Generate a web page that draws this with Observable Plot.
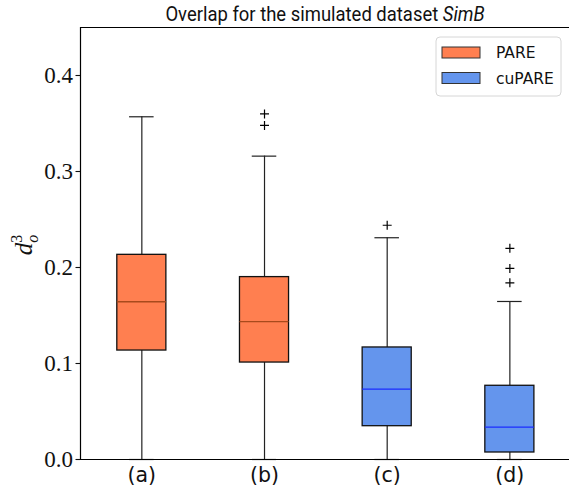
<!DOCTYPE html>
<html>
<head>
<meta charset="utf-8">
<script src="https://cdn.jsdelivr.net/npm/d3@7"></script>
<script src="https://cdn.jsdelivr.net/npm/@observablehq/plot@0.6"></script>
<style>
  body { margin: 0; background: #fff; }
  svg { overflow: visible; }
</style>
</head>
<body>
<div id="chart"></div>
<script>
// Box-plot summaries of the overlap metric, one box per configuration
const categories  = ["(a)", "(b)", "(c)", "(d)"];
const methods     = ["PARE", "PARE", "cuPARE", "cuPARE"];
const whiskerLow  = [0.0, 0.0, 0.0, 0.0];
const q1          = [0.1135, 0.101, 0.0347, 0.0073];
const median      = [0.1643, 0.1437, 0.0733, 0.0337];
const q3          = [0.2132, 0.190, 0.1167, 0.0768];
const whiskerHigh = [0.357, 0.316, 0.231, 0.1646];
const outliers    = [[], [0.348, 0.360], [0.244], [0.184, 0.199, 0.220]];
const yTicks      = [0.0, 0.1, 0.2, 0.3, 0.4];
const legendLabels = ["PARE", "cuPARE"];

const fillColors   = {PARE: "#ff7f50", cuPARE: "#6495ed"};
const medianColors = {PARE: "#a84a1c", cuPARE: "#1a2cff"};

const boxes = categories.map((label, i) => ({
  pos: i + 1, label, method: methods[i],
  lo: whiskerLow[i], q1: q1[i], med: median[i], q3: q3[i], hi: whiskerHigh[i]
}));
const fliers = outliers.flatMap((vals, i) => vals.map(v => ({pos: i + 1, value: v})));

const boxHalf = 0.2, capHalf = 0.1;

const chart = Plot.plot({
  width: 569,
  height: 494,
  marginTop: 27,
  marginBottom: 35,
  marginLeft: 80,
  marginRight: 0,
  x: {domain: [0.5, 4.5], range: [80, 570.7]},
  y: {domain: [0, 0.45]},
  color: {type: "identity"},
  marks: [
    // whiskers
    Plot.ruleX(boxes, {x: "pos", y1: "lo", y2: "q1", stroke: "#222", strokeWidth: 1.2}),
    Plot.ruleX(boxes, {x: "pos", y1: "q3", y2: "hi", stroke: "#222", strokeWidth: 1.2}),
    // caps
    Plot.ruleY(boxes, {y: "hi", x1: d => d.pos - capHalf, x2: d => d.pos + capHalf, stroke: "#222", strokeWidth: 1.2}),
    Plot.ruleY(boxes, {y: "lo", x1: d => d.pos - capHalf, x2: d => d.pos + capHalf, stroke: "#222", strokeWidth: 1.2}),
    // boxes
    Plot.rect(boxes, {
      x1: d => d.pos - boxHalf, x2: d => d.pos + boxHalf,
      y1: "q1", y2: "q3",
      fill: d => fillColors[d.method], stroke: "#111", strokeWidth: 1.3
    }),
    // medians
    Plot.ruleY(boxes, {
      y: "med", x1: d => d.pos - boxHalf, x2: d => d.pos + boxHalf,
      stroke: d => medianColors[d.method], strokeWidth: 1.3
    }),
    // outliers
    Plot.dot(fliers, {x: "pos", y: "value", symbol: "plus", r: 3, stroke: "#000", strokeWidth: 1.2}),
    // frame
    Plot.ruleX([0.5, 4.5], {stroke: "#000", strokeWidth: 1.2}),
    Plot.ruleY([0, 0.45], {stroke: "#000", strokeWidth: 1.2}),
    // axes
    Plot.axisY(yTicks, {
      tickSize: 4.5, tickPadding: 3, tickFormat: d => d.toFixed(1),
      fontSize: 23, color: "#111", label: null, strokeWidth: 1.1,
      ariaLabel: "y-axis"
    }),
    Plot.axisX([1, 2, 3, 4], {
      tickSize: 0, tickPadding: 8, tickFormat: d => categories[d - 1],
      fontSize: 21, color: "#111", label: null,
      ariaLabel: "x-axis"
    })
  ]
});

const svg = d3.select(chart);

// serif tick numbers on y, sans letters on x
svg.selectAll('g[aria-label="y-axis tick label"], g[aria-label="y-axis tick label"] text')
  .attr("font-family", "Liberation Serif").attr("font-size", 23);
svg.selectAll('g[aria-label="x-axis tick label"], g[aria-label="x-axis tick label"] text')
  .attr("font-family", "DejaVu Sans").attr("font-size", 20.5);

// title, set in a slightly condensed sans
const title = svg.append("text")
  .attr("transform", "translate(325,21) scale(0.9,1)")
  .attr("text-anchor", "middle")
  .attr("font-family", "Roboto")
  .attr("font-size", 20.5)
  .attr("fill", "#111");
title.append("tspan").text("Overlap for the simulated dataset ");
title.append("tspan").attr("font-style", "italic").text("SimB");

// y-axis label: d with sub o and sup 3
const ylab = svg.append("text")
  .attr("transform", "translate(32,245) rotate(-90)")
  .attr("text-anchor", "middle")
  .attr("font-family", "Liberation Serif")
  .attr("font-size", 25)
  .attr("fill", "#111");
ylab.append("tspan").attr("font-style", "italic").text("d");
ylab.append("tspan").attr("font-size", 16).attr("dy", -10).text("3");
ylab.append("tspan").attr("font-size", 16).attr("font-style", "italic").attr("dx", -8).attr("dy", 16).text("o");

// legend
const lg = svg.append("g").attr("text-anchor", "start");
lg.append("rect")
  .attr("x", 436).attr("y", 37).attr("width", 125).attr("height", 59)
  .attr("rx", 4).attr("fill", "#fff").attr("fill-opacity", 0.85)
  .attr("stroke", "#d6d6d6").attr("stroke-width", 1);
legendLabels.forEach((name, i) => {
  const cy = 52.5 + i * 25.5;
  lg.append("rect")
    .attr("x", 442).attr("y", cy - 5.5).attr("width", 38).attr("height", 11)
    .attr("fill", fillColors[name]).attr("stroke", "#333").attr("stroke-width", 1);
  lg.append("text")
    .attr("x", 496).attr("y", cy).attr("dy", "0.36em")
    .attr("text-anchor", "start")
    .attr("font-family", "DejaVu Sans").attr("font-size", 15.5)
    .attr("fill", "#111").text(name);
});

document.getElementById("chart").appendChild(chart);
</script>
</body>
</html>
